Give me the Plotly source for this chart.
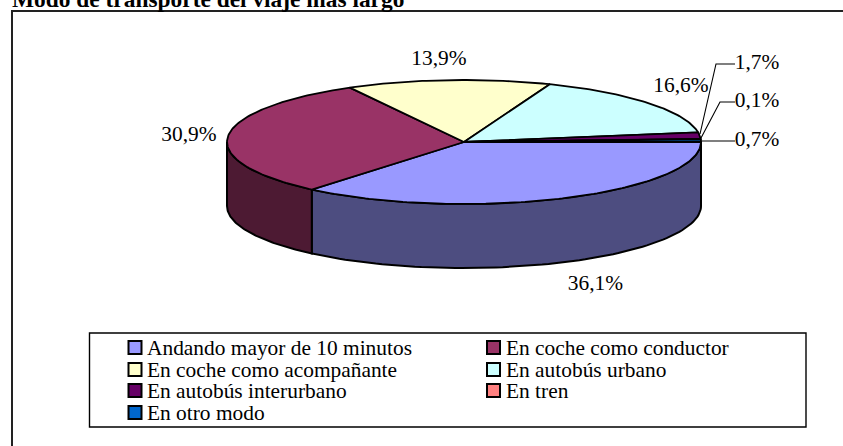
import numpy as np
import plotly.graph_objects as go

title = "Modo de transporte del viaje más largo"
categories = ["Andando mayor de 10 minutos", "En coche como conductor", "En coche como acompañante",
              "En autobús urbano", "En autobús interurbano", "En tren", "En otro modo"]
values = [36.1, 30.9, 13.9, 16.6, 1.7, 0.1, 0.7]
colors = ["#9999FF", "#993366", "#FFFFCC", "#CCFFFF", "#660066", "#FF8080", "#0066CC"]
side_colors = ["#4D4D80", "#4D1A33", "#80806A", "#668080", "#330033", "#804040", "#003366"]
labels = ["36,1%", "30,9%", "13,9%", "16,6%", "1,7%", "0,1%", "0,7%"]
label_xy = [(595.5, 285), (189, 136), (439, 60), (681, 87), (757, 64), (757, 102), (757, 141)]

W, H = 843, 446
CX, CY, RX, RY, DEPTH = 464, 142, 237, 62, 64
FONT = "Liberation Serif"
BLACK = "#000000"
FS = 21.4

fig = go.Figure()

def pt(t):
    return CX + RX * np.cos(t), CY + RY * np.sin(t)

edges = np.radians(np.cumsum([0] + values) * 3.6)

# side walls: only the front half (t in 0..pi) is visible
for i in range(len(values)):
    a, b = max(edges[i], 0), min(edges[i + 1], np.pi)
    if b <= a:
        continue
    t = np.linspace(a, b, 80)
    x, y = pt(t)
    xs = np.concatenate([x, x[::-1], x[:1]])
    ys = np.concatenate([y, y[::-1] + DEPTH, y[:1]])
    fig.add_trace(go.Scatter(x=xs, y=ys, mode="lines", fill="toself", fillcolor=side_colors[i],
                             line=dict(color=BLACK, width=2), hoverinfo="skip", showlegend=False))

# top faces
for i in range(len(values)):
    t = np.linspace(edges[i], edges[i + 1], max(int((edges[i + 1] - edges[i]) * 60), 4))
    x, y = pt(t)
    xs = np.concatenate([[CX], x, [CX]])
    ys = np.concatenate([[CY], y, [CY]])
    fig.add_trace(go.Scatter(x=xs, y=ys, mode="lines", fill="toself", fillcolor=colors[i],
                             line=dict(color=BLACK, width=1.8), name=categories[i],
                             hoverinfo="skip", showlegend=False))

# leader lines
leaders = [(4, [(700, 134), (716, 64), (735, 64)]),
           (5, [(701, 138), (720, 102), (735, 102)]),
           (6, [(701, 141), (735, 141)])]
for _, pts in leaders:
    fig.add_trace(go.Scatter(x=[p[0] for p in pts], y=[p[1] for p in pts], mode="lines",
                             line=dict(color=BLACK, width=1.1), hoverinfo="skip", showlegend=False))

# percentage labels
fig.add_trace(go.Scatter(x=[p[0] for p in label_xy], y=[p[1] for p in label_xy], mode="text", text=labels,
                         textposition="middle center", textfont=dict(family=FONT, size=FS, color=BLACK),
                         hoverinfo="skip", showlegend=False))

# legend
leg_col_x = [135, 493.5]
leg_row_y = [347.5, 369.5, 390.5, 412.5]
for i, c in enumerate(categories):
    lx, ly = leg_col_x[i % 2], leg_row_y[i // 2]
    fig.add_trace(go.Scatter(x=[lx], y=[ly], mode="markers",
                             marker=dict(symbol="square", size=13, color=colors[i], line=dict(color=BLACK, width=2)),
                             hoverinfo="skip", showlegend=False))
    fig.add_annotation(x=lx + 10, y=ly, text=c, showarrow=False, xanchor="left", yanchor="middle",
                       font=dict(family=FONT, size=FS, color=BLACK))

shapes = [
    dict(type="rect", x0=12, y0=11, x1=W + 20, y1=H + 20, line=dict(color="#222222", width=2), layer="below"),
    dict(type="rect", x0=89.5, y0=333, x1=806, y1=427, line=dict(color=BLACK, width=1.4), layer="below"),
]
fig.add_annotation(xref="paper", yref="paper", x=10 / W, y=1 + 1.5 / H, text="<b>" + title + "</b>", showarrow=False,
                   xanchor="left", yanchor="middle", font=dict(family=FONT, size=23.4, color=BLACK))

fig.update_layout(
    width=W, height=H, margin=dict(l=0, r=0, t=0, b=0), paper_bgcolor="white", plot_bgcolor="white",
    shapes=shapes, showlegend=False,
    xaxis=dict(range=[0, W], visible=False, fixedrange=True),
    yaxis=dict(range=[H, 0], visible=False, fixedrange=True),
)
fig.write_html("out.html", config=dict(displayModeBar=False),
               post_script="document.body.style.margin='0';document.documentElement.style.overflow='hidden';")
